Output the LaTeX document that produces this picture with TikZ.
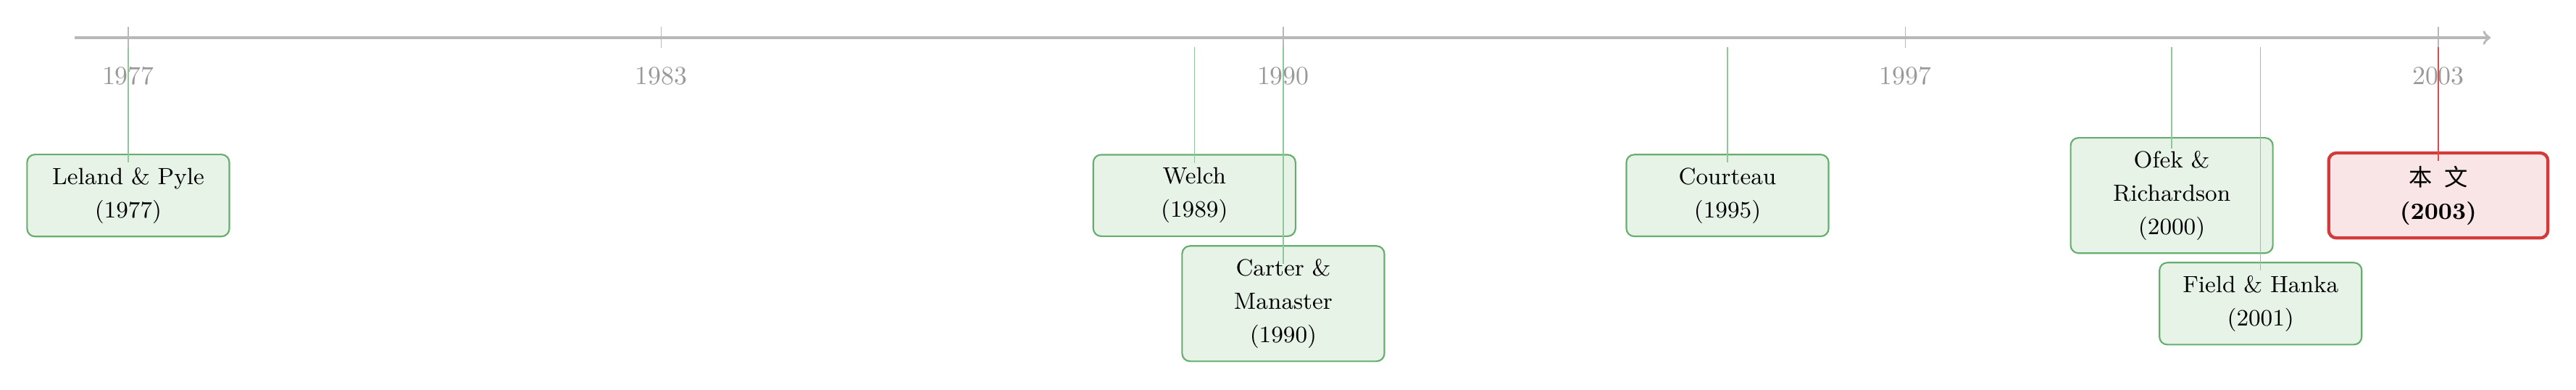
\documentclass[tikz,border=0pt]{standalone}
\usepackage{fontspec}
\newfontfamily\cjk{Noto Sans CJK SC}

\definecolor{axisgray}{HTML}{B8B8B8}
\definecolor{yeargray}{HTML}{999999}
\definecolor{evline}{HTML}{66AE6E}
\definecolor{evfill}{HTML}{E8F3E8}
\definecolor{evlink}{HTML}{8CC898}
\definecolor{mainline}{HTML}{D43A3A}
\definecolor{mainfill}{HTML}{F9E5E5}
\definecolor{mainred}{HTML}{E04A4A}

\tikzset{
  event/.style={rectangle, rounded corners=3pt, draw=evline, fill=evfill, semithick,
    text width=2.45cm, align=center, inner xsep=4pt, inner ysep=5pt,
    font=\fontsize{9}{12.8}\selectfont},
  mainevent/.style={event, draw=mainline, fill=mainfill, very thick, text width=2.68cm},
  link/.style={evlink, thin},
  thislink/.style={mainred, thin},
}

\begin{document}
\begin{tikzpicture}[x=1.2cm]
    \useasboundingbox (-1.443,0.509) rectangle (27.55,-4.747);

    %axis
    \draw[line width=1pt, axisgray, ->] (-0.6,0) -- (26.59,0);
    \foreach \yr/\x in {1977/0,1983/6,1990/13,1997/20,2003/26} {
        \draw[thin, axisgray] (\x,0.15) -- (\x,-0.14);
        \node[yeargray] (y\yr) at (\x,-0.52) {\yr};
    }

    %start of the links
    \foreach \yr/\x in {1977/0,1989/12,1990/13,1995/18,2000/23,2001/24,2003/26}
        \coordinate (c\yr) at (\x,-0.13);

    %events
    \node[event] (leland) at (0,-2.13) {Leland \& Pyle\\(1977)};
    \node[event] (welch) at (12,-2.13) {Welch\\(1989)};
    \node[event] (carter) at (13,-3.59) {Carter \& Manaster\\(1990)};
    \node[event] (courteau) at (18,-2.13) {Courteau\\(1995)};
    \node[event] (ofek) at (23,-2.13) {Ofek \& Richardson\\(2000)};
    \node[event] (field) at (24,-3.59) {Field \& Hanka\\(2001)};
    \node[mainevent] (thiswork) at (26,-2.13) {{\cjk 本\enspace 文}\\\textbf{(2003)}};

    %links
    \draw[link] (c1977) -- ([yshift=-3.4pt]leland.north);
    \draw[link] (c1989) -- ([yshift=-3.4pt]welch.north);
    \draw[link] (c1990) -- ([yshift=-7.2pt]carter.north);
    \draw[link] (c1995) -- ([yshift=-3.4pt]courteau.north);
    \draw[link] (c2000) -- ([yshift=-4.5pt]ofek.north);
    \draw[link] (c2001) -- ([yshift=-3.4pt]field.north);
    \draw[thislink] (c2003) -- ([yshift=-3.8pt]thiswork.north);
\end{tikzpicture}
\end{document}
